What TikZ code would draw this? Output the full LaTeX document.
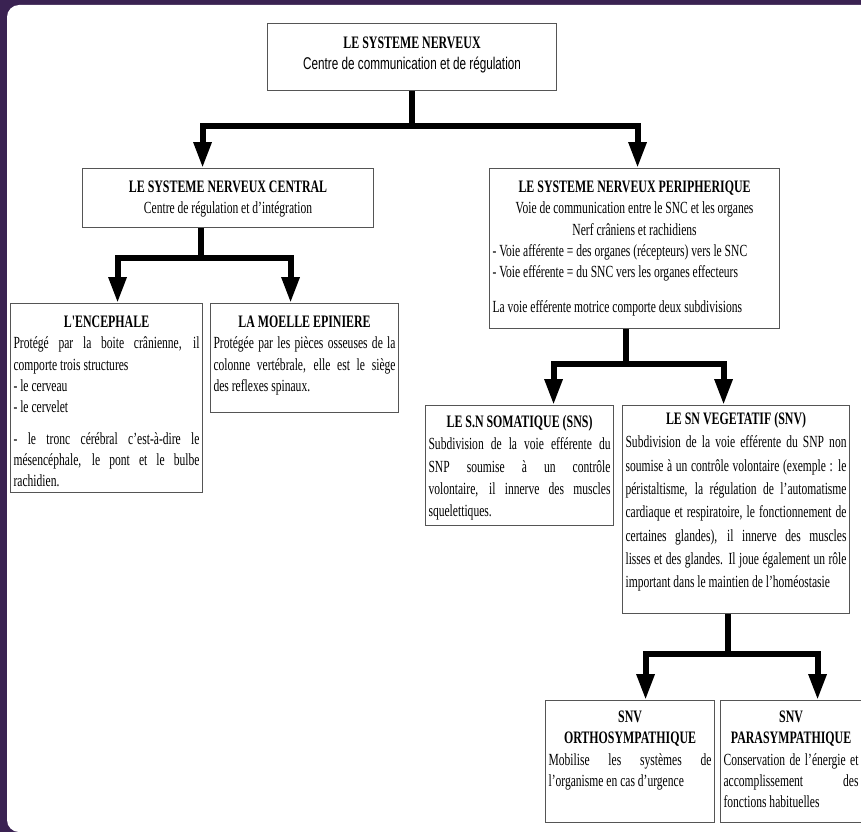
\documentclass[tikz,border=0pt]{standalone}
\usepackage{fontspec}
\setmainfont{Liberation Serif}[FakeStretch=0.68]
\newfontfamily\titlefont{Liberation Serif}[FakeStretch=0.68]
\newfontfamily\subfont{Liberation Sans}[FakeStretch=0.69]
\usetikzlibrary{arrows.meta}
\definecolor{framepurple}{HTML}{3A2252}
\definecolor{boxline}{HTML}{555555}
\newcommand\ttl{\titlefont\bfseries\fontsize{17.5}{21.3}\selectfont}
\newcommand\bodyfont{\fontsize{17}{21.3}\selectfont}
\newcommand\jline[1]{\hbox to\hsize{#1}} % one justified line
\tolerance=9999
\hyphenpenalty=10000
\lineskiplimit=-20pt
\hbadness=10000
\hfuzz=20pt
\tikzset{
  cell/.style n args={3}{draw=boxline, line width=1.1pt, anchor=north west,
    inner xsep=3pt, inner ysep=0pt, text width=#1, text height=#2,
    text depth=#3, align=justify, font=\bodyfont, text=black},
  link/.style={line width=6pt, line join=miter,
    -{Triangle[width=17pt,length=26pt]}},
}

\begin{document}
\begin{tikzpicture}[x=1pt,y=-1pt] % pixel grid, y downwards

\clip (0,0) rectangle (861,832);
\fill[framepurple] (0,0) rectangle (861,832);
\fill[white,rounded corners=12pt] (7,5) rectangle (900,832);

% top level
\node[cell={283pt}{25pt}{42pt}] (root) at (267,23)
  {{\centering\ttl LE SYSTEME NERVEUX\par}
   {\centering\subfont Centre de communication et de régulation\par}};

% second level
\node[cell={285pt}{24pt}{35pt}] (snc) at (82,168)
  {{\centering\ttl LE SYSTEME NERVEUX CENTRAL\par}
   {\centering Centre de régulation et d'intégration\par}};
\node[cell={284pt}{24pt}{136pt}] (snp) at (489,168)
  {{\centering\ttl LE SYSTEME NERVEUX PERIPHERIQUE\par}
   {\centering Voie de communication entre le SNC et les organes\par
    Nerf crâniens et rachidiens\par}
   - Voie afférente = des organes (récepteurs) vers le SNC\par
   - Voie efférente = du SNC vers les organes effecteurs\par
   \vspace{13pt}La voie efférente motrice comporte deux subdivisions};

% central branch
\node[cell={186pt}{24pt}{165pt}] (enc) at (10,303)
  {{\centering\ttl L'ENCEPHALE\par}
   \jline{Protégé par la boite crânienne, il}
   comporte trois structures\par
   - le cerveau\par
   - le cervelet\par
   \vspace{10pt}
   \jline{- le tronc cérébral c'est-à-dire le}
   \jline{mésencéphale, le pont et le bulbe}
   rachidien.};
\node[cell={182pt}{24pt}{85pt}] (moelle) at (210,303)
  {{\centering\ttl LA MOELLE EPINIERE\par}
   \jline{Protégée par les pièces osseuses de la}
   \jline{colonne vertébrale, elle est le siège}
   des reflexes spinaux.};

% peripheral branch
\node[cell={182pt}{22pt}{98pt},font=\fontsize{17}{22.3}\selectfont] (sns) at (425,405)
  {{\centering\ttl LE S.N SOMATIQUE (SNS)\par}
   \jline{Subdivision de la voie efférente du}
   \jline{SNP soumise à un contrôle}
   \jline{volontaire, il innerve des muscles}
   squelettiques.};
\node[cell={221pt}{19pt}{189pt},font=\fontsize{17}{23.3}\selectfont] (snv) at (622,405)
  {{\centering\ttl LE SN VEGETATIF (SNV)\par}
   \jline{Subdivision de la voie efférente du SNP non}
   \jline{soumise à un contrôle volontaire (exemple : le}
   \jline{péristaltisme, la régulation de l'automatisme}
   \jline{cardiaque et respiratoire, le fonctionnement de}
   \jline{certaines glandes), il innerve des muscles}
   \jline{lisses et des glandes. Il joue également un rôle}
   important dans le maintien de l'homéostasie};

% vegetative branch
\node[cell={163pt}{22pt}{100pt}] (ortho) at (545,700)
  {{\centering\ttl SNV\par ORTHOSYMPATHIQUE\par}
   \jline{Mobilise les systèmes de}
   l'organisme en cas d'urgence};
\node[cell={135pt}{22pt}{100pt}] (para) at (720,700)
  {{\centering\ttl SNV\par PARASYMPATHIQUE\par}
   \jline{Conservation de l'énergie et}
   \jline{accomplissement des}
   fonctions habituelles};

% connectors
\draw[link] (root.south) -- ++(0,35) -| ([xshift=-25.5pt]snc.north);
\draw[link] (root.south) -- ++(0,35) -| ([xshift=3pt]snp.north);
\draw[link] ([xshift=-27.5pt]snc.south) -- ++(0,30) -| ([xshift=11pt]enc.north);
\draw[link] ([xshift=-27.5pt]snc.south) -- ++(0,30) -| ([xshift=-14pt]moelle.north);
\draw[link] ([xshift=-9pt]snp.south) -- ++(0,35) -| ([xshift=34pt]sns.north);
\draw[link] ([xshift=-9pt]snp.south) -- ++(0,35) -| ([xshift=-12.5pt]snv.north);
\draw[link] ([xshift=-8.5pt]snv.south) -- ++(0,40) -| ([xshift=15.5pt]ortho.north);
\draw[link] ([xshift=-8.5pt]snv.south) -- ++(0,40) -| ([xshift=26.5pt]para.north);

\end{tikzpicture}
\end{document}
